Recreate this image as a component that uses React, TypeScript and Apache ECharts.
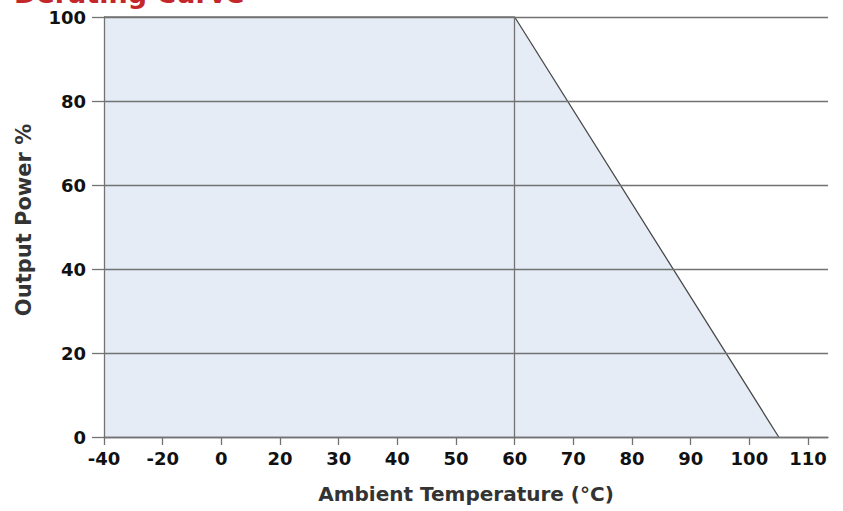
import React, { useEffect, useRef } from "react";
import * as echarts from "echarts";

const xTickLabels = [-40, -20, 0, 20, 30, 40, 50, 60, 70, 80, 90, 100, 110];
const curveTemps = [-40, 60, 105];
const curvePower = [100, 100, 0];
const yTicks = [0, 20, 40, 60, 80, 100];
const markerTemp = 60;

const FONT = "DejaVu Sans";

function tempToIndex(t: number): number {
  for (let i = 0; i < xTickLabels.length - 1; i++) {
    const a = xTickLabels[i];
    const b = xTickLabels[i + 1];
    if (t >= a && t <= b) return i + (t - a) / (b - a);
  }
  const n = xTickLabels.length;
  const a = xTickLabels[n - 2];
  const b = xTickLabels[n - 1];
  return n - 1 + (t - b) / (b - a);
}

export default function App() {
  const ref = useRef<HTMLDivElement>(null);
  useEffect(() => {
    if (!ref.current) return;
    const chart = echarts.init(ref.current, undefined, { renderer: "svg" });
    const tickIdx = xTickLabels.map((_, i) => i);
    const data = curveTemps.map((t, i) => [tempToIndex(t), curvePower[i]]);
    const gridColor = "#727272";
    chart.setOption({
      animation: false,
      backgroundColor: "#ffffff",
      graphic: [
        {
          type: "text",
          left: 14,
          top: -20,
          style: {
            text: "Derating Curve",
            font: `bold 27px "${FONT}"`,
            fill: "#c3262b",
          },
        },
      ],
      grid: {
        left: 104,
        top: 17,
        right: 15,
        bottom: 74,
        outerBoundsMode: "none",
      },
      xAxis: {
        type: "value",
        min: 0,
        max: 12.34,
        interval: 1,
        z: 3,
        axisLine: { show: true, lineStyle: { color: gridColor, width: 1.3 } },
        axisTick: {
          show: true,
          length: 8,
          customValues: tickIdx,
          lineStyle: { color: gridColor, width: 1.3 },
        },
        axisLabel: {
          customValues: tickIdx,
          margin: 12,
          color: "#111",
          fontFamily: FONT,
          fontWeight: "bold",
          fontSize: 18,
          formatter: (v: number) => {
            const i = Math.round(v);
            return Math.abs(v - i) < 1e-6 && xTickLabels[i] !== undefined ? String(xTickLabels[i]) : "";
          },
        },
        splitLine: { show: false },
        name: "Ambient Temperature (°C)",
        nameLocation: "middle",
        nameGap: 47,
        nameTextStyle: {
          color: "#333",
          fontFamily: FONT,
          fontWeight: "bold",
          fontSize: 20,
        },
      },
      yAxis: {
        type: "value",
        min: 0,
        max: 100,
        interval: 20,
        z: 3,
        axisLine: { show: true, lineStyle: { color: gridColor, width: 1.3 } },
        axisTick: {
          show: true,
          length: 12,
          customValues: yTicks,
          lineStyle: { color: gridColor, width: 1.3 },
        },
        axisLabel: {
          customValues: yTicks,
          margin: 18,
          color: "#111",
          fontFamily: FONT,
          fontWeight: "bold",
          fontSize: 18,
        },
        splitLine: { show: true, lineStyle: { color: gridColor, width: 1.3 } },
        name: "Output Power %",
        nameLocation: "middle",
        nameGap: 70,
        nameTextStyle: {
          color: "#333",
          fontFamily: FONT,
          fontWeight: "bold",
          fontSize: 21,
          padding: [0, 0, 0, 14],
        },
      },
      series: [
        {
          type: "line",
          data,
          z: 2,
          symbol: "none",
          lineStyle: { color: "#4a4a4a", width: 1.3 },
          areaStyle: { color: "#e5ecf6", opacity: 1 },
          markLine: {
            silent: true,
            symbol: "none",
            label: { show: false },
            lineStyle: { color: gridColor, width: 1.3, type: "solid" },
            data: [{ xAxis: tempToIndex(markerTemp) }],
          },
        },
      ],
    });
    return () => chart.dispose();
  }, []);
  return (
    <div
      ref={ref}
      style={{ position: "absolute", left: 0, top: 0, width: 843, height: 511 }}
    />
  );
}
